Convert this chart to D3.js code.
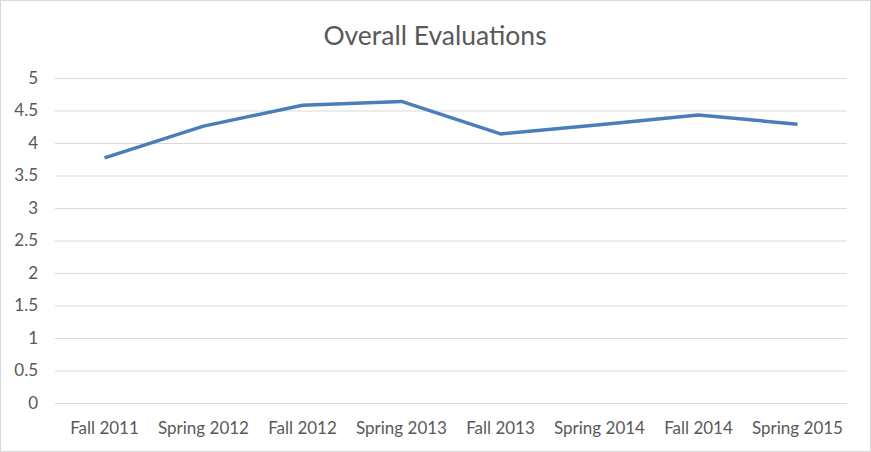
<!DOCTYPE html>
<html>
<head>
<meta charset="utf-8">
<script src="https://cdn.jsdelivr.net/npm/d3@7"></script>
<style>
  body { margin: 0; background: #fff; }
  text { font-family: Lato, "Open Sans", sans-serif; fill: #595959; }
</style>
</head>
<body>
<div id="chart"></div>
<script>
// data
const categories = ["Fall 2011", "Spring 2012", "Fall 2012", "Spring 2013",
                    "Fall 2013", "Spring 2014", "Fall 2014", "Spring 2015"];
const evaluations = [3.77, 4.26, 4.58, 4.64, 4.14, 4.28, 4.43, 4.29];
const yTicks = [0, 0.5, 1, 1.5, 2, 2.5, 3, 3.5, 4, 4.5, 5];

const width = 871, height = 452;
const margin = { top: 78, right: 24, bottom: 49, left: 55 };

const svg = d3.select('#chart').append('svg')
    .attr('width', width)
    .attr('height', height);

// chart border
svg.append('rect')
    .attr('x', 0.5).attr('y', 0.5)
    .attr('width', width - 1).attr('height', height - 1)
    .attr('fill', '#fff')
    .attr('stroke', '#d9d9d9');

const x = d3.scaleBand()
    .domain(categories)
    .range([margin.left, width - margin.right]);

const y = d3.scaleLinear()
    .domain([0, 5])
    .range([height - margin.bottom, margin.top]);

// gridlines + y labels
const yAxis = svg.append('g')
    .attr('transform', `translate(${margin.left},0)`)
    .call(d3.axisLeft(y).tickValues(yTicks)
        .tickSize(-(width - margin.left - margin.right))
        .tickPadding(17)
        .tickFormat(d3.format('')));
yAxis.select('.domain').remove();
yAxis.selectAll('.tick line').attr('stroke', '#d9d9d9');
yAxis.selectAll('.tick text')
    .style('font-size', '17px')
    .attr('fill', '#595959');

// x labels
const xAxis = svg.append('g')
    .attr('transform', `translate(0,${height - margin.bottom})`)
    .call(d3.axisBottom(x).tickSize(0).tickPadding(19));
xAxis.select('.domain').remove();
xAxis.selectAll('.tick text')
    .style('font-size', '17px')
    .attr('fill', '#595959');

// line
const line = d3.line()
    .x((d, i) => x(categories[i]) + x.bandwidth() / 2)
    .y(d => y(d));

svg.append('path')
    .datum(evaluations)
    .attr('fill', 'none')
    .attr('stroke', '#4a7ebb')
    .attr('stroke-width', 3.5)
    .attr('stroke-linejoin', 'round')
    .attr('d', line);

// title
svg.append('text')
    .attr('x', 435)
    .attr('y', 45)
    .attr('text-anchor', 'middle')
    .style('font-size', '26.5px')
    .text('Overall Evaluations');
</script>
</body>
</html>
